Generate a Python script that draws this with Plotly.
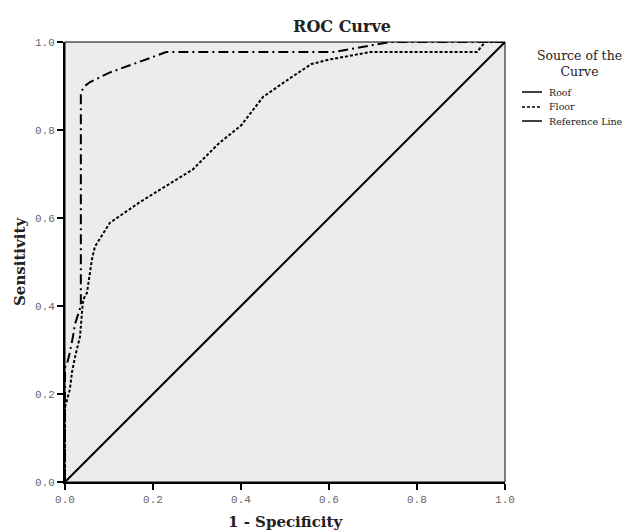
import plotly.graph_objects as go

# Data
roof_fpr = [0.0, 0.0, 0.005, 0.010, 0.018, 0.023, 0.036, 0.036, 0.045, 0.057, 0.10, 0.23, 0.61, 0.74, 1.0]
roof_tpr = [0.0, 0.26, 0.27, 0.29, 0.33, 0.36, 0.40, 0.886, 0.90, 0.909, 0.93, 0.977, 0.977, 1.0, 1.0]

floor_fpr = [0.0, 0.0, 0.011, 0.016, 0.023, 0.034, 0.041, 0.050, 0.061, 0.068, 0.102, 0.17, 0.29, 0.35, 0.40, 0.45, 0.50, 0.56, 0.60, 0.693, 0.936, 0.955, 1.0]
floor_tpr = [0.0, 0.17, 0.21, 0.25, 0.285, 0.33, 0.414, 0.43, 0.505, 0.535, 0.589, 0.636, 0.71, 0.77, 0.81, 0.875, 0.91, 0.95, 0.96, 0.977, 0.977, 1.0, 1.0]

ref_x = [0.0, 1.0]
ref_y = [0.0, 1.0]

tick_vals = [0.0, 0.2, 0.4, 0.6, 0.8, 1.0]
tick_text = ["0.0", "0.2", "0.4", "0.6", "0.8", "1.0"]

series_names = ["Roof", "Floor", "Reference Line"]
series_dash = ["10px,4px,2px,4px", "3px,2px", "solid"]
legend_dash = ["solid", "3px,2px", "solid"]

fig = go.Figure()
fig.add_trace(go.Scatter(x=roof_fpr, y=roof_tpr, mode="lines", name=series_names[0],
                         line=dict(color="black", width=2, dash=series_dash[0])))
fig.add_trace(go.Scatter(x=floor_fpr, y=floor_tpr, mode="lines", name=series_names[1],
                         line=dict(color="black", width=2, dash=series_dash[1])))
fig.add_trace(go.Scatter(x=ref_x, y=ref_y, mode="lines", name=series_names[2],
                         line=dict(color="black", width=2, dash=series_dash[2])))

serif = "DejaVu Serif"
axis_common = dict(
    range=[0, 1], tickvals=tick_vals, ticktext=tick_text,
    showgrid=False, zeroline=False, automargin=False,
    showline=True, linecolor="black", linewidth=2,
    ticks="outside", ticklen=6, tickwidth=2, tickcolor="black",
    tickfont=dict(family="Liberation Mono", size=11, color="#666666"),
)

fig.update_layout(
    template="none",
    width=637, height=532,
    margin=dict(l=65, r=132, t=42, b=50, autoexpand=False),
    paper_bgcolor="white", plot_bgcolor="#ececec",
    showlegend=False,
    title=dict(text="ROC Curve", x=342 / 637, xanchor="center", y=1 - 26 / 532, yanchor="middle",
               font=dict(family=serif, size=16, color="#222222", weight="bold")),
    xaxis=axis_common,
    yaxis=axis_common,
)

# thin border on top/right
fig.add_shape(type="rect", xref="paper", yref="paper", x0=0, y0=0, x1=1, y1=1,
              line=dict(color="black", width=1), layer="above")

def px_x(p):
    return (p - 65) / 440

def px_y(p):
    return (482 - p) / 440

# axis titles
fig.add_annotation(text="1 - Specificity", xref="paper", yref="paper", x=0.5, y=px_y(522),
                   xanchor="center", yanchor="middle", showarrow=False,
                   font=dict(family=serif, size=15, color="#222222", weight="bold"))
fig.add_annotation(text="Sensitivity", xref="paper", yref="paper", x=px_x(20), y=0.5,
                   xanchor="center", yanchor="middle", showarrow=False, textangle=-90,
                   font=dict(family=serif, size=15, color="#222222", weight="bold"))

# manual legend
fig.add_annotation(text="Source of the<br>Curve", xref="paper", yref="paper",
                   x=px_x(579), y=px_y(46), xanchor="center", yanchor="top", showarrow=False,
                   align="center", font=dict(family=serif, size=12.5, color="#222222"))
leg_y = [92, 107, 121]
for name, dash, yy in zip(series_names, legend_dash, leg_y):
    fig.add_shape(type="line", xref="paper", yref="paper",
                  x0=px_x(522), x1=px_x(542), y0=px_y(yy), y1=px_y(yy),
                  line=dict(color="black", width=1.5, dash=dash))
    fig.add_annotation(text=name, xref="paper", yref="paper", x=px_x(547), y=px_y(yy),
                       xanchor="left", yanchor="middle", showarrow=False,
                       font=dict(family=serif, size=9.5, color="#222222"))

fig.write_html("out.html", config={"displayModeBar": False},
               post_script="document.body.style.margin='0';document.body.style.overflow='hidden';")
